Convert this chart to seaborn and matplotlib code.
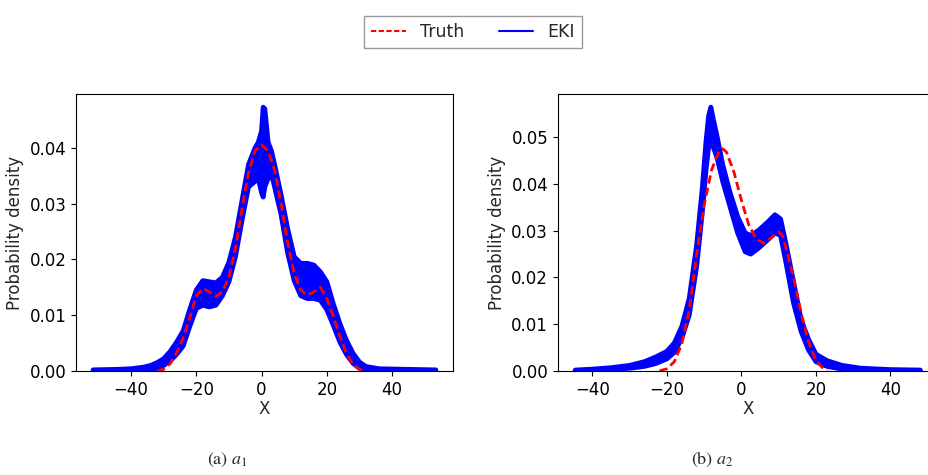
import matplotlib
matplotlib.use('Agg')
import matplotlib.pyplot as plt
from matplotlib.lines import Line2D
import seaborn as sns

# ---- a1: truth density ----
truth_x1 = [-32, -30, -28, -26, -24, -22, -20, -18, -16, -14, -12, -10, -8, -6, -4, -2, 0,
            2, 4, 6, 8, 10, 12, 14, 16, 18, 20, 22, 24, 26, 28, 30, 32]
truth_y1 = [0.0, 0.0003, 0.0013, 0.0033, 0.0060, 0.0095, 0.0135, 0.0148, 0.0142, 0.0134, 0.0142,
            0.0168, 0.0220, 0.0290, 0.0355, 0.0395, 0.0405, 0.0395, 0.0360, 0.0300, 0.0230, 0.0175,
            0.0145, 0.0136, 0.0142, 0.0150, 0.0130, 0.0098, 0.0062, 0.0032, 0.0012, 0.0003, 0.0]

# ---- a1: EKI ensemble band (lower / upper envelope) ----
eki_x1 = [-51.6, -44, -40, -36, -34, -32, -30, -28, -26, -24, -22, -20, -18, -16, -14, -12, -10,
          -8, -6, -4, -2, -1, 0, 0.5, 1, 2, 3, 4, 6, 8, 10, 12, 14, 16, 18, 20, 22, 24, 26, 28,
          30, 32, 36, 44, 53.4]
eki_lo1 = [0.0, 0.0, 0.0001, 0.0002, 0.0003, 0.0005, 0.0010, 0.0018, 0.0030, 0.0045, 0.0080,
           0.0112, 0.0118, 0.0115, 0.0118, 0.0135, 0.0160, 0.0205, 0.0270, 0.0330, 0.0340, 0.0345,
           0.0320, 0.0312, 0.0330, 0.0345, 0.0355, 0.0330, 0.0280, 0.0212, 0.0162, 0.0135, 0.0130,
           0.0130, 0.0127, 0.0110, 0.0082, 0.0052, 0.0030, 0.0014, 0.0005, 0.0002, 0.0001, 0.0, 0.0]
eki_hi1 = [0.0002, 0.0003, 0.0004, 0.0007, 0.0010, 0.0015, 0.0022, 0.0035, 0.0052, 0.0072, 0.0110,
           0.0145, 0.0162, 0.0160, 0.0158, 0.0168, 0.0195, 0.0240, 0.0305, 0.0370, 0.0400, 0.0410,
           0.0430, 0.0473, 0.0470, 0.0410, 0.0395, 0.0370, 0.0315, 0.0255, 0.0205, 0.0193, 0.0193,
           0.0190, 0.0178, 0.0160, 0.0120, 0.0085, 0.0055, 0.0032, 0.0016, 0.0008, 0.0004, 0.0003,
           0.0002]

# ---- a2: truth density ----
truth_x2 = [-22, -20, -18, -16, -14, -12, -10, -8, -6, -5, -4, -2, 0, 2, 4, 6, 8, 10, 11, 12, 14,
            16, 18, 20, 22, 23]
truth_y2 = [0.0, 0.0005, 0.0020, 0.0058, 0.0130, 0.0250, 0.0355, 0.0430, 0.0470, 0.0475, 0.0468,
            0.0425, 0.0365, 0.0312, 0.0282, 0.0273, 0.0285, 0.0297, 0.0290, 0.0262, 0.0200, 0.0125,
            0.0062, 0.0022, 0.0005, 0.0]

# ---- a2: EKI ensemble band ----
eki_x2 = [-44.6, -40, -35, -30, -26, -23, -20, -18, -16, -14, -12, -10.5, -9.5, -8.8, -8.2, -7.6,
          -6.5, -5, -3, -1, 1, 2.5, 4.5, 7, 9, 10.5, 12, 14, 16, 18, 20, 23, 27, 32, 40, 48]
eki_lo2 = [0.0, 0.0001, 0.0003, 0.0006, 0.0010, 0.0016, 0.0026, 0.0040, 0.0070, 0.0120, 0.0225,
           0.0340, 0.0430, 0.0480, 0.0500, 0.0480, 0.0455, 0.0405, 0.0350, 0.0295, 0.0255, 0.0250,
           0.0262, 0.0280, 0.0295, 0.0290, 0.0230, 0.0145, 0.0085, 0.0045, 0.0020, 0.0010, 0.0004,
           0.0001, 0.0, 0.0]
eki_hi2 = [0.0002, 0.0004, 0.0007, 0.0012, 0.0020, 0.0030, 0.0042, 0.0060, 0.0095, 0.0155, 0.0270,
           0.0390, 0.0490, 0.0545, 0.0564, 0.0540, 0.0500, 0.0440, 0.0380, 0.0330, 0.0295, 0.0290,
           0.0300, 0.0318, 0.0334, 0.0325, 0.0270, 0.0190, 0.0110, 0.0068, 0.0036, 0.0022, 0.0012,
           0.0006, 0.0003, 0.0002]

captions = ['(a) $a_1$', '(b) $a_2$']

sns.set_style('ticks', {'axes.edgecolor': 'black', 'xtick.color': 'black', 'ytick.color': 'black'})
plt.rcParams['font.family'] = ['DejaVu Sans']
plt.rcParams['mathtext.fontset'] = 'stix'
plt.rcParams['xtick.major.size'] = 3.5
plt.rcParams['ytick.major.size'] = 3.5

fig = plt.figure(figsize=(9.29, 4.75), dpi=100)
ax1 = fig.add_axes([0.0818, 0.2189, 0.4058, 0.5832])
ax2 = fig.add_axes([0.6006, 0.2189, 0.4086, 0.5832])

panels = [(ax1, eki_x1, eki_lo1, eki_hi1, truth_x1, truth_y1),
          (ax2, eki_x2, eki_lo2, eki_hi2, truth_x2, truth_y2)]

for ax, ex, lo, hi, tx, ty in panels:
    ax.fill_between(ex, lo, hi, color='blue', lw=0)
    sns.lineplot(x=ex, y=lo, ax=ax, color='blue', lw=3.5, legend=False)
    sns.lineplot(x=ex, y=hi, ax=ax, color='blue', lw=3.5, legend=False)
    sns.lineplot(x=tx, y=ty, ax=ax, color='red', lw=2, dashes=False, legend=False).lines[-1].set_dashes([3, 1.5])
    ax.set_ylim(bottom=0)
    ax.set_xlabel('X', fontsize=12, labelpad=1)
    ax.set_ylabel('Probability density', fontsize=12)
    ax.tick_params(labelsize=12)
    ax.set_xticks([-40, -20, 0, 20, 40])

fig.text(0.245, 0.032, captions[0], ha='center', va='center', fontsize=13, family='STIXGeneral')
fig.text(0.767, 0.032, captions[1], ha='center', va='center', fontsize=13, family='STIXGeneral')

handles = [Line2D([], [], color='red', lw=1.5, linestyle='--', dashes=(2.5, 1.2)),
           Line2D([], [], color='blue', lw=1.5)]
fig.legend(handles, ['Truth', 'EKI'], loc='upper center', bbox_to_anchor=(0.509, 0.985),
           ncol=2, fontsize=12.5, fancybox=False, edgecolor='#999999', framealpha=1)

plt.savefig('out.png', dpi=100)
